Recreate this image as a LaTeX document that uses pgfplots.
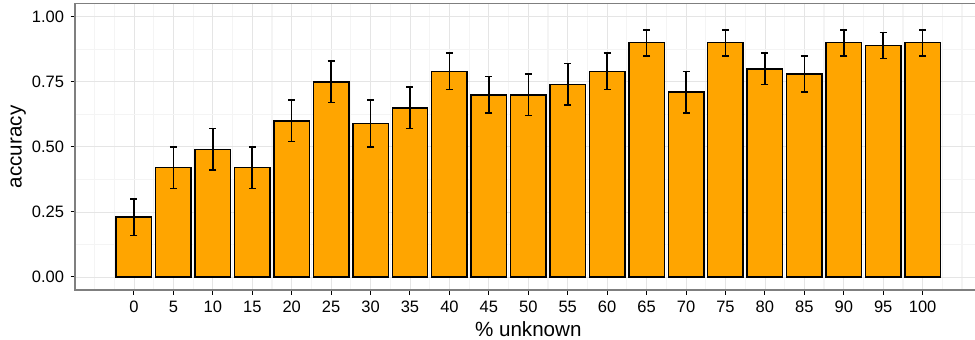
\documentclass[border=0pt]{standalone}
\usepackage{fontspec}
\setmainfont{Liberation Sans}
\usepackage{pgfplots}
\usepackage{pgfplotstable}
\pgfplotsset{compat=1.18}
\definecolor{barorange}{HTML}{FFA500}
\definecolor{gmaj}{HTML}{E5E5E5}
\definecolor{gmin}{HTML}{F4F4F4}
\definecolor{bordergrey}{HTML}{7F7F7F}
\pgfplotstableread{
x y ep em
0 0.23 0.07 0.07
5 0.42 0.08 0.08
10 0.49 0.08 0.08
15 0.42 0.08 0.08
20 0.60 0.08 0.08
25 0.75 0.08 0.08
30 0.59 0.09 0.09
35 0.65 0.08 0.08
40 0.79 0.07 0.07
45 0.70 0.07 0.07
50 0.70 0.08 0.08
55 0.74 0.08 0.08
60 0.79 0.07 0.07
65 0.90 0.05 0.05
70 0.71 0.08 0.08
75 0.90 0.05 0.05
80 0.80 0.06 0.06
85 0.78 0.07 0.07
90 0.90 0.05 0.05
95 0.89 0.05 0.05
100 0.90 0.05 0.05
}\acc
\begin{document}
\begin{tikzpicture}
\begin{axis}[
  at={(75pt,50pt)}, anchor=south west,
  scale only axis, width=906.6pt, height=286.3pt,
  xmin=-7.475, xmax=107.475, ymin=-0.05, ymax=1.05,
  ybar, bar width=4.5,
  xtick={0,5,...,100},
  ytick={0,0.25,0.5,0.75,1},
  minor xtick={-5,-2.5,2.5,7.5,...,102.5,105},
  minor ytick={0.125,0.375,0.625,0.875},
  grid=both,
  major grid style={draw=gmaj, line width=0.8pt},
  minor grid style={draw=gmin, line width=1.2pt},
  axis line style={draw=bordergrey, line width=1.2pt},
  tick align=outside,
  major tick length=4.5pt,
  minor tick length=0pt,
  tick style={black, line width=1pt},
  xtick pos=bottom, ytick pos=left,
  /pgf/number format/assume math mode=true,
  yticklabel={\pgfmathprintnumber[fixed,fixed zerofill,precision=2]{\tick}},
  tick label style={font=\fontsize{16.5}{18}\selectfont, text=black},
  xticklabel style={anchor=base, yshift=-17.8pt},
  yticklabel style={anchor=east, inner sep=0pt, xshift=-6.2pt},
  xlabel={\% unknown},
  ylabel={accuracy},
  label style={font=\fontsize{20.6}{22}\selectfont},
  xlabel style={at={(axis description cs:0.5,0)}, anchor=base, yshift=-46.3pt},
  ylabel style={at={(axis description cs:-0.0590,0.5)}, anchor=base},
]
\addplot[fill=barorange, draw=black, line width=1.5pt,
  error bars/.cd, y dir=both, y explicit,
  error bar style={line width=1.6pt, black},
  error mark options={rotate=90, mark size=3.5pt, black, /tikz/line width=1.6pt}]
  table[x=x, y=y, y error plus=ep, y error minus=em]{\acc};
\end{axis}
\pgfresetboundingbox
\path[use as bounding box] (0,0) rectangle (975pt,340pt);
\end{tikzpicture}
\end{document}
